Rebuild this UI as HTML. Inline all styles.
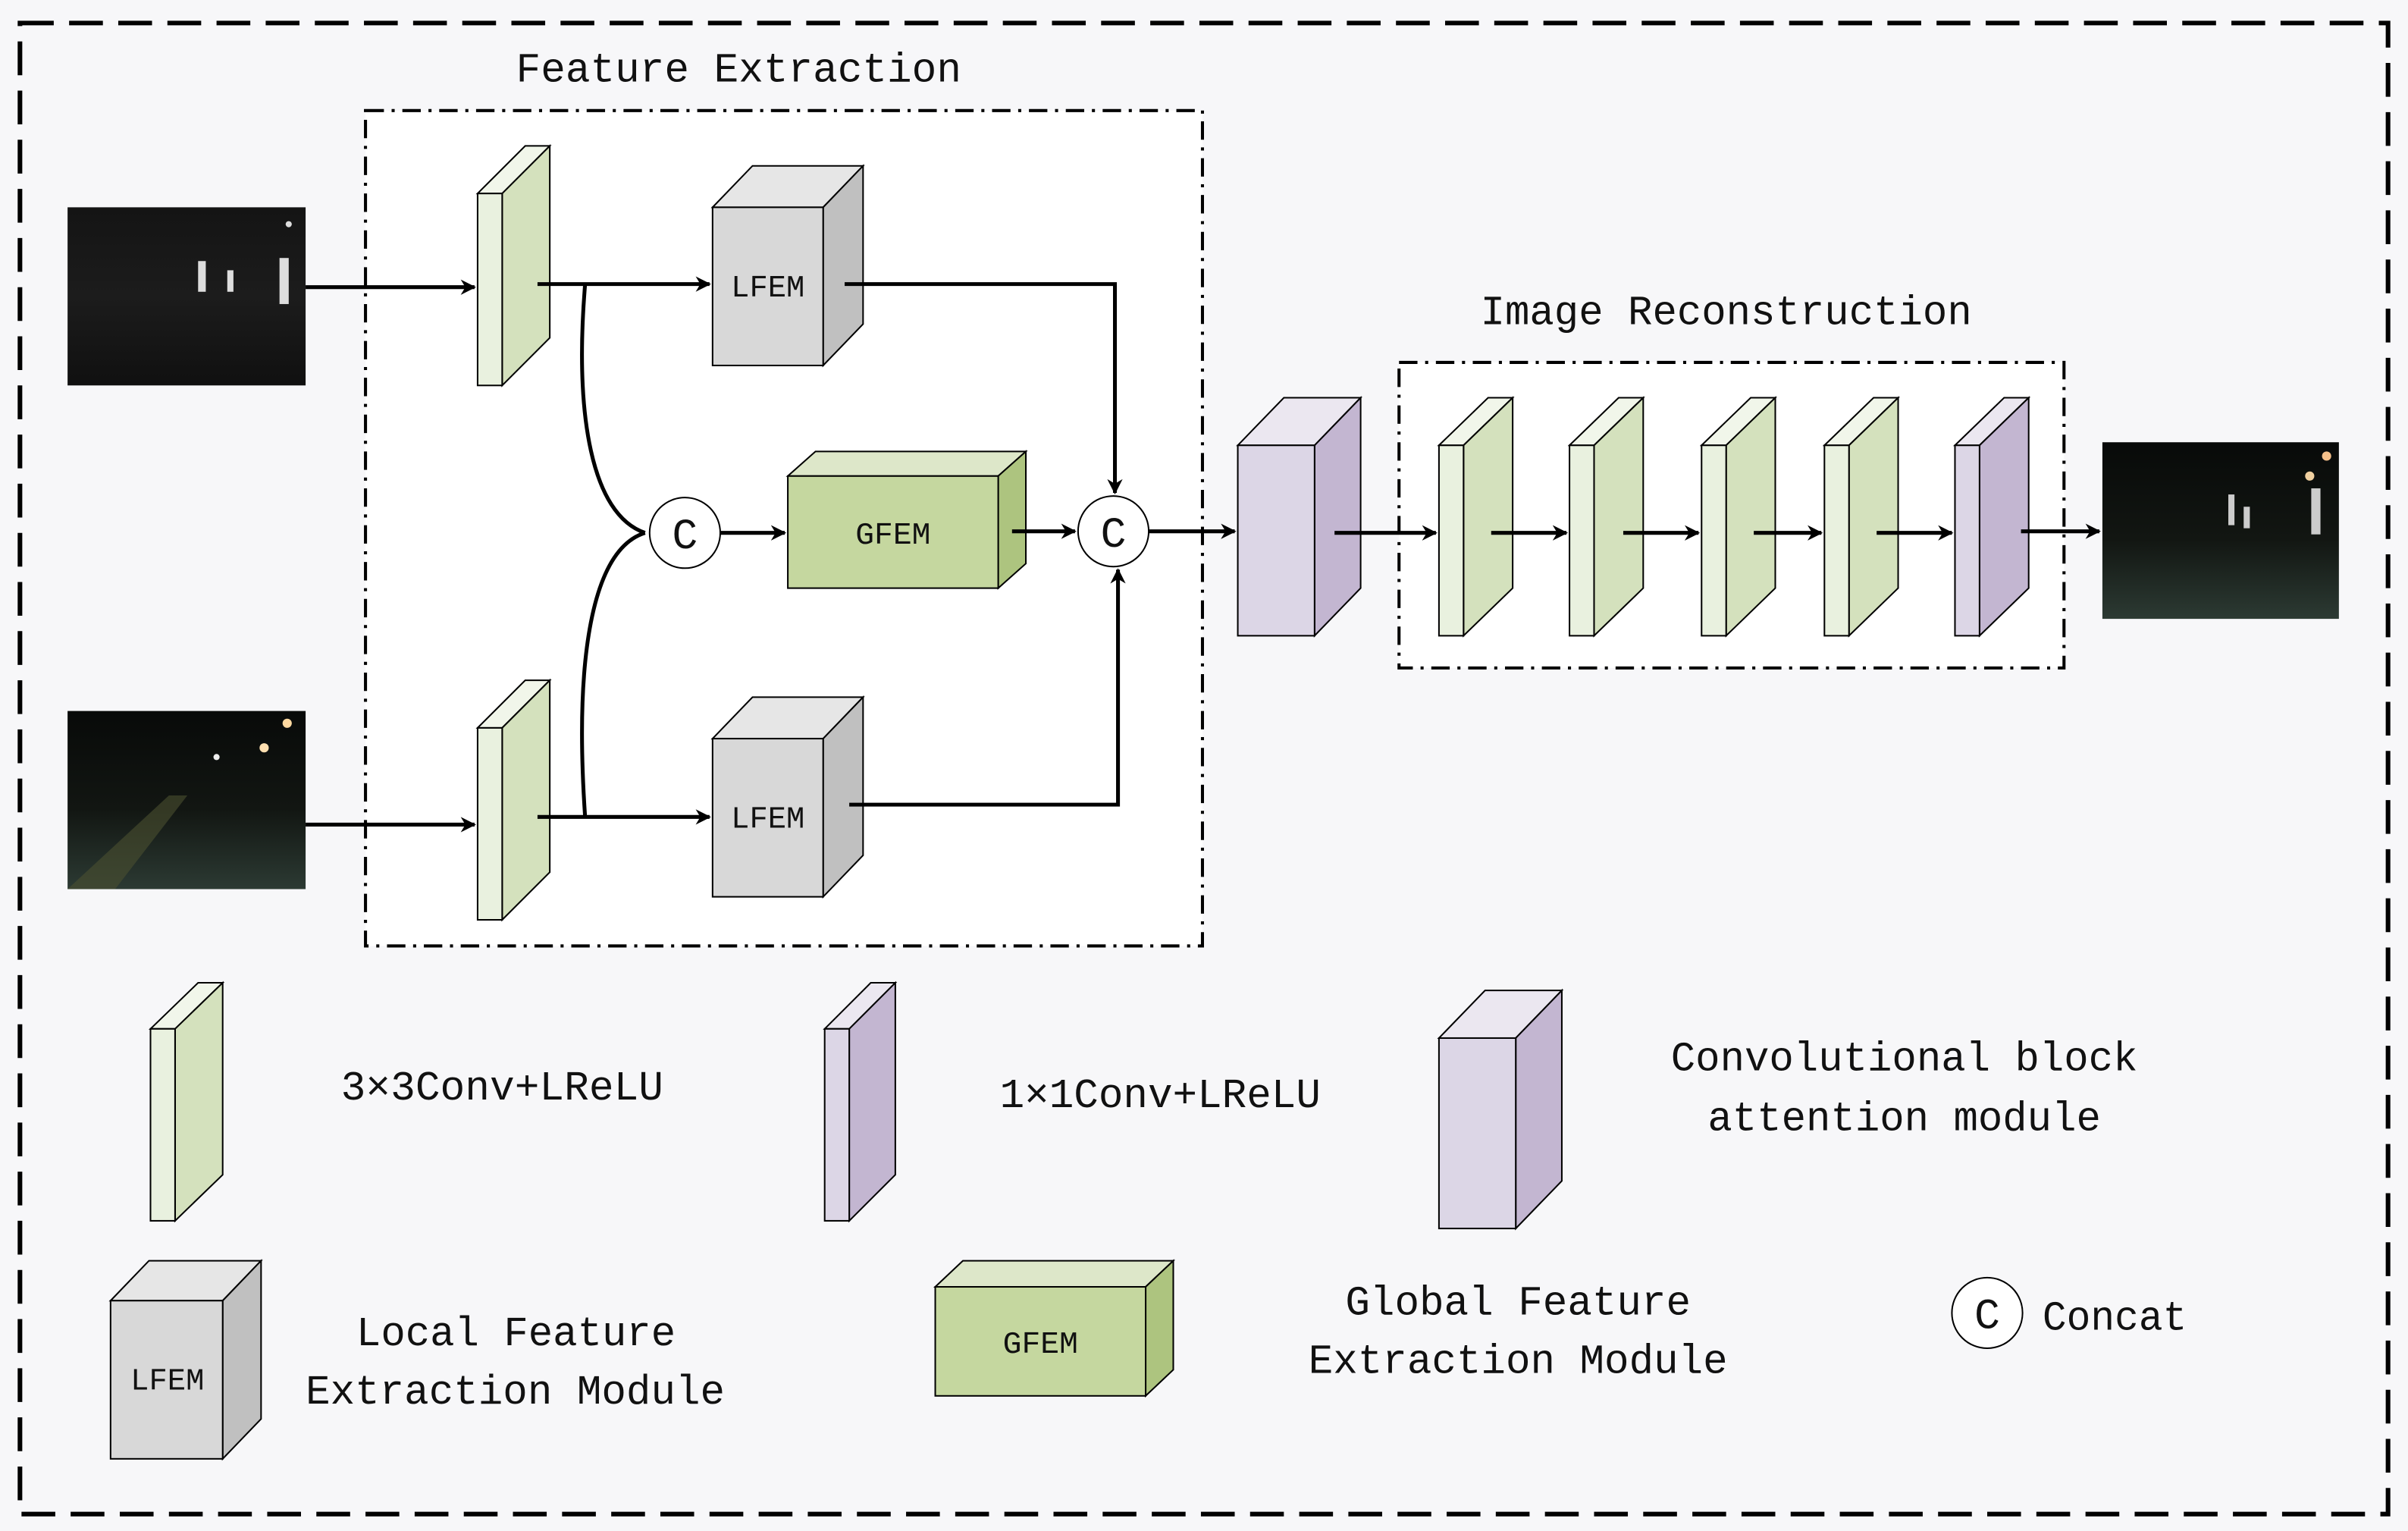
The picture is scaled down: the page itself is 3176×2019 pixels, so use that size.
<!DOCTYPE html>
<html><head><meta charset="utf-8"><style>
html,body{margin:0;padding:0;background:#f7f7f9}
svg{display:block}
text{font-family:"Liberation Mono","DejaVu Sans Mono",monospace;fill:#111}
</style></head><body>
<svg width="3176" height="2019" viewBox="0 0 1568 997" preserveAspectRatio="none" xmlns="http://www.w3.org/2000/svg">
<defs>
<marker id="a" markerWidth="10" markerHeight="10" refX="9" refY="5" orient="auto" markerUnits="userSpaceOnUse"><path d="M0,0 L10,5 L0,10 L3,5 z" fill="#000"/></marker>
<linearGradient id="road" x1="0" y1="0" x2="0" y2="1"><stop offset="0" stop-color="#080a09"/><stop offset="0.55" stop-color="#121612"/><stop offset="1" stop-color="#2c3a33"/></linearGradient>
<linearGradient id="ir" x1="0" y1="0" x2="0" y2="1"><stop offset="0" stop-color="#141414"/><stop offset="0.5" stop-color="#1c1c1c"/><stop offset="1" stop-color="#101010"/></linearGradient>
</defs>
<rect width="1568" height="997" fill="#f7f7f9"/>
<rect x="13" y="15" width="1542" height="971" fill="none" stroke="#000" stroke-width="3" stroke-dasharray="22,10"/>
<rect x="238" y="72" width="545" height="544" fill="#fff" stroke="#000" stroke-width="2" stroke-dasharray="12,5,2,5"/>
<rect x="911" y="236" width="433" height="199" fill="#fff" stroke="#000" stroke-width="2" stroke-dasharray="12,5,2,5"/>
<text x="336" y="53" font-size="27" textLength="290" lengthAdjust="spacingAndGlyphs">Feature Extraction</text>
<text x="964" y="211" font-size="27" textLength="320" lengthAdjust="spacingAndGlyphs">Image Reconstruction</text>

<!-- images -->
<rect x="44" y="135" width="155" height="116" fill="url(#ir)"/>
<g fill="#ddd"><rect x="129" y="170" width="5" height="20"/><rect x="148" y="176" width="4" height="14"/><rect x="182" y="168" width="6" height="30"/><circle cx="188" cy="146" r="2"/></g>
<rect x="44" y="463" width="155" height="116" fill="url(#road)"/>
<circle cx="187" cy="471" r="3" fill="#ffd9a0"/><circle cx="172" cy="487" r="3" fill="#ffe0b0"/><circle cx="141" cy="493" r="2" fill="#eee"/>
<path d="M44,579 L110,518 L122,518 L75,579 z" fill="#4b5030" opacity="0.6"/>
<rect x="1369" y="288" width="154" height="115" fill="url(#road)"/>
<g fill="#ccc"><rect x="1451" y="322" width="4" height="20"/><rect x="1505" y="318" width="6" height="30"/><rect x="1461" y="330" width="4" height="14"/><circle cx="1515" cy="297" r="3" fill="#f5c08a"/><circle cx="1504" cy="310" r="3" fill="#f0d0a0"/></g>

<g stroke="#000" stroke-width="1">
<path d="M311,126 L342,95 L358,95 L327,126 z" fill="#f1f6ea"/><path d="M327,126 L358,95 L358,220 L327,251 z" fill="#d4e1bd"/><rect x="311" y="126" width="16" height="125" fill="#e9f1df"/>
<path d="M311,474 L342,443 L358,443 L327,474 z" fill="#f1f6ea"/><path d="M327,474 L358,443 L358,568 L327,599 z" fill="#d4e1bd"/><rect x="311" y="474" width="16" height="125" fill="#e9f1df"/>
<path d="M464,135 L490,108 L562,108 L536,135 z" fill="#e6e6e6"/><path d="M536,135 L562,108 L562,211 L536,238 z" fill="#c0c0c0"/><rect x="464" y="135" width="72" height="103" fill="#d8d8d8"/>
<path d="M464,481 L490,454 L562,454 L536,481 z" fill="#e6e6e6"/><path d="M536,481 L562,454 L562,557 L536,584 z" fill="#c0c0c0"/><rect x="464" y="481" width="72" height="103" fill="#d8d8d8"/>
<path d="M513,310 L531,294 L668,294 L650,310 z" fill="#dde7c9"/><path d="M650,310 L668,294 L668,367 L650,383 z" fill="#adc47f"/><rect x="513" y="310" width="137" height="73" fill="#c5d79f"/>
<path d="M806,290 L836,259 L886,259 L856,290 z" fill="#ebe7f0"/><path d="M856,290 L886,259 L886,383 L856,414 z" fill="#c3b6d1"/><rect x="806" y="290" width="50" height="124" fill="#dcd6e6"/>
<path d="M937,290 L969,259 L985,259 L953,290 z" fill="#f1f6ea"/><path d="M953,290 L985,259 L985,383 L953,414 z" fill="#d4e1bd"/><rect x="937" y="290" width="16" height="124" fill="#e9f1df"/>
<path d="M1022,290 L1054,259 L1070,259 L1038,290 z" fill="#f1f6ea"/><path d="M1038,290 L1070,259 L1070,383 L1038,414 z" fill="#d4e1bd"/><rect x="1022" y="290" width="16" height="124" fill="#e9f1df"/>
<path d="M1108,290 L1140,259 L1156,259 L1124,290 z" fill="#f1f6ea"/><path d="M1124,290 L1156,259 L1156,383 L1124,414 z" fill="#d4e1bd"/><rect x="1108" y="290" width="16" height="124" fill="#e9f1df"/>
<path d="M1188,290 L1220,259 L1236,259 L1204,290 z" fill="#f1f6ea"/><path d="M1204,290 L1236,259 L1236,383 L1204,414 z" fill="#d4e1bd"/><rect x="1188" y="290" width="16" height="124" fill="#e9f1df"/>
<path d="M1273,290 L1305,259 L1321,259 L1289,290 z" fill="#ebe7f0"/><path d="M1289,290 L1321,259 L1321,383 L1289,414 z" fill="#c3b6d1"/><rect x="1273" y="290" width="16" height="124" fill="#dcd6e6"/>
<path d="M98,670 L129,640 L145,640 L114,670 z" fill="#f1f6ea"/><path d="M114,670 L145,640 L145,765 L114,795 z" fill="#d4e1bd"/><rect x="98" y="670" width="16" height="125" fill="#e9f1df"/>
<path d="M537,670 L567,640 L583,640 L553,670 z" fill="#ebe7f0"/><path d="M553,670 L583,640 L583,765 L553,795 z" fill="#c3b6d1"/><rect x="537" y="670" width="16" height="125" fill="#dcd6e6"/>
<path d="M937,676 L967,645 L1017,645 L987,676 z" fill="#ebe7f0"/><path d="M987,676 L1017,645 L1017,769 L987,800 z" fill="#c3b6d1"/><rect x="937" y="676" width="50" height="124" fill="#dcd6e6"/>
<path d="M72,847 L97,821 L170,821 L145,847 z" fill="#e6e6e6"/><path d="M145,847 L170,821 L170,924 L145,950 z" fill="#c0c0c0"/><rect x="72" y="847" width="73" height="103" fill="#d8d8d8"/>
<path d="M609,838 L627,821 L764,821 L746,838 z" fill="#dde7c9"/><path d="M746,838 L764,821 L764,892 L746,909 z" fill="#adc47f"/><rect x="609" y="838" width="137" height="71" fill="#c5d79f"/>
<circle cx="446" cy="347" r="23" fill="#fff"/><circle cx="725" cy="346" r="23" fill="#fff"/><circle cx="1294" cy="855" r="23" fill="#fff"/>
</g>

<g stroke="#000" stroke-width="2.5" fill="none">
<path d="M199,187 L309,187" marker-end="url(#a)"/>
<path d="M350,185 L462,185" marker-end="url(#a)"/>
<path d="M550,185 L726,185 L726,321" marker-end="url(#a)"/>
<path d="M199,537 L309,537" marker-end="url(#a)"/>
<path d="M350,532 L462,532" marker-end="url(#a)"/>
<path d="M553,524 L728,524 L728,371" marker-end="url(#a)"/>
<path d="M381,185 C374,270 385,335 420,347"/>
<path d="M381,532 C374,430 385,358 420,347"/>
<path d="M469,347 L511,347" marker-end="url(#a)"/>
<path d="M659,346 L700,346" marker-end="url(#a)"/>
<path d="M748,346 L804,346" marker-end="url(#a)"/>
<path d="M869,347 L935,347" marker-end="url(#a)"/>
<path d="M971,347 L1020,347" marker-end="url(#a)"/>
<path d="M1057,347 L1106,347" marker-end="url(#a)"/>
<path d="M1142,347 L1186,347" marker-end="url(#a)"/>
<path d="M1222,347 L1271,347" marker-end="url(#a)"/>
<path d="M1316,346 L1367,346" marker-end="url(#a)"/>
</g>

<g font-size="20">
<text x="476" y="193" textLength="48" lengthAdjust="spacingAndGlyphs">LFEM</text><text x="476" y="539" textLength="48" lengthAdjust="spacingAndGlyphs">LFEM</text>
<text x="557" y="354" textLength="49" lengthAdjust="spacingAndGlyphs">GFEM</text><text x="85" y="905" textLength="48" lengthAdjust="spacingAndGlyphs">LFEM</text><text x="653" y="881" textLength="49" lengthAdjust="spacingAndGlyphs">GFEM</text>
</g>
<g font-size="28" text-anchor="middle">
<text x="446" y="357">C</text><text x="725" y="356">C</text><text x="1294" y="865">C</text>
</g>
<g font-size="27">
<text x="222" y="716" textLength="210" lengthAdjust="spacingAndGlyphs">3×3Conv+LReLU</text>
<text x="651" y="721" textLength="209" lengthAdjust="spacingAndGlyphs">1×1Conv+LReLU</text>
<text x="1088" y="697" textLength="304" lengthAdjust="spacingAndGlyphs">Convolutional block</text>
<text x="1112" y="736" textLength="256" lengthAdjust="spacingAndGlyphs">attention module</text>
<text x="232" y="876" textLength="208" lengthAdjust="spacingAndGlyphs">Local Feature</text>
<text x="199" y="914" textLength="273" lengthAdjust="spacingAndGlyphs">Extraction Module</text>
<text x="876" y="856" textLength="225" lengthAdjust="spacingAndGlyphs">Global Feature</text>
<text x="852" y="894" textLength="273" lengthAdjust="spacingAndGlyphs">Extraction Module</text>
<text x="1330" y="866" textLength="94" lengthAdjust="spacingAndGlyphs">Concat</text>
</g>
</svg>
</body></html>
